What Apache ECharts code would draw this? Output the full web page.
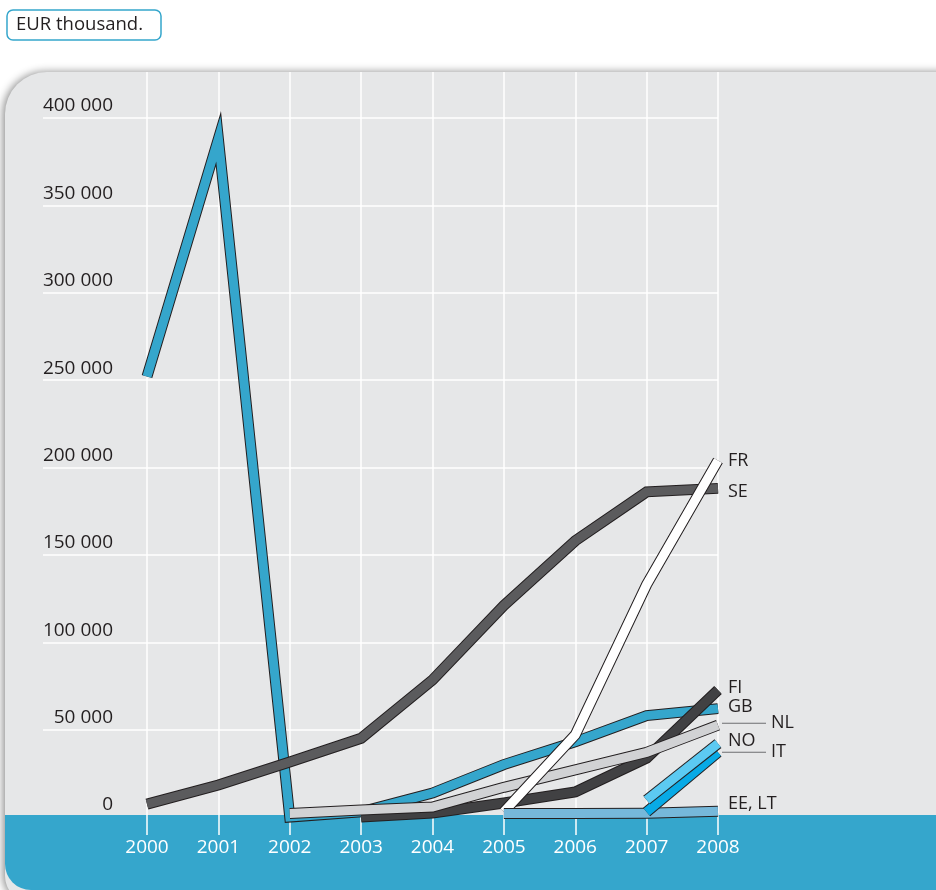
<!DOCTYPE html>
<html><head><meta charset="utf-8">
<script src="https://cdn.jsdelivr.net/npm/echarts@6/dist/echarts.min.js"></script>
<style>html,body{margin:0;padding:0;background:#fff}#c{width:936px;height:890px}</style>
</head><body><div id="c"></div>
<script>
// ---- data (EUR thousand) ----
const years = ['2000','2001','2002','2003','2004','2005','2006','2007','2008'];
const yTicks = [0, 50000, 100000, 150000, 200000, 250000, 300000, 350000, 400000];
const GB   = [252000, 388000, 0, 3000, 13700, 30000, 43000, 58000, 62000];
const SE   = [7400, 18300, 31500, 45000, 78400, 121000, 158000, 186000, 188000];
const FI   = [null, null, null, 0, 2300, 8000, 14300, 33700, 72700];
const NL   = [null, null, 2000, 4000, 5700, 17000, 27000, 37000, 52500];
const FR   = [null, null, null, null, null, 3000, 47000, 133000, 204000];
const EELT = [null, null, null, null, null, 2000, 2000, 2200, 3300];
const IT   = [null, null, null, null, null, null, null, 2900, 37000];
const NO   = [null, null, null, null, null, null, null, 9700, 42000];

const FONT = '"Open Sans", "Noto Sans", sans-serif';
const TXT = '#231f20';

// drawing order (bottom to top)
const defs = [
  {name:'GB',     data:GB,   color:'#35a6cc', dy:-2, lead:false},
  {name:'SE',     data:SE,   color:'#5b5b5d', dy:3,  lead:false},
  {name:'FI',     data:FI,   color:'#414143', dy:-2, lead:false},
  {name:'NL',     data:NL,   color:'#d1d2d4', dy:-2, lead:true},
  {name:'FR',     data:FR,   color:'#ffffff', dy:0,  lead:false},
  {name:'EE, LT', data:EELT, color:'#76b8da', dy:-7, lead:false},
  {name:'IT',     data:IT,   color:'#08aae6', dy:0,  lead:true},
  {name:'NO',     data:NO,   color:'#5ccaf2', dy:-3, lead:false}
];

const PX_PER = 87.4 / 50000;       // pixels per unit
const zeroY = 817, grid1Top = 72, grid1Bottom = 835;

const series = [];
defs.forEach((d, i) => {
  series.push({
    type:'line', name:d.name + '_o', data:d.data, xAxisIndex:1, yAxisIndex:1,
    symbol:'none', silent:true, z: 10 + i*2,
    lineStyle:{color:'#231f20', width:11, join:'miter', miterLimit:40, cap:'butt'}
  });
  series.push({
    type:'line', name:d.name, data:d.data, xAxisIndex:1, yAxisIndex:1,
    symbol:'none', silent:true, z: 11 + i*2,
    lineStyle:{color:d.color, width:9, join:'miter', miterLimit:40, cap:'butt'},
    endLabel:{
      show:true,
      distance: d.lead ? 4 : 10,
      offset:[0, d.dy],
      formatter: d.lead ? ('{ln|}{t|' + d.name + '}') : d.name,
      color:TXT, fontSize:18, fontFamily:FONT,
      rich: d.lead ? {
        ln:{width:44, height:1, backgroundColor:'#6d6e71'},
        t:{color:TXT, fontSize:18, fontFamily:FONT, padding:[0,0,0,5]}
      } : undefined
    }
  });
});

const chart = echarts.init(document.getElementById('c'), null, {renderer:'canvas'});
chart.setOption({
  animation:false,
  backgroundColor:'#ffffff',
  graphic:[
    {type:'rect', z:-10, shape:{x:5, y:72, width:960, height:830, r:[42,0,0,26]},
     style:{fill:'#e6e7e8', shadowBlur:9, shadowColor:'rgba(0,0,0,0.45)', shadowOffsetX:-2}},
    {type:'rect', z:-9, shape:{x:5, y:815, width:960, height:75, r:[0,0,0,26]},
     style:{fill:'#35a6cc'}},
    {type:'rect', z:5, shape:{x:7, y:10, width:154, height:30, r:6},
     style:{fill:'#fff', stroke:'#35a6cc', lineWidth:1.5}},
    {type:'text', z:6, x:16, y:25,
     style:{text:'EUR thousand.', fill:TXT, font:'18.5px ' + FONT, verticalAlign:'middle', align:'left'}}
  ],
  grid:[
    {left:43, right:218, top:118, bottom:890-zeroY},
    {left:147, right:218, top:grid1Top, bottom:890-grid1Bottom}
  ],
  xAxis:[
    {type:'value', gridIndex:0, min:0, max:1, show:false},
    {type:'category', gridIndex:1, data:years, boundaryGap:false,
     axisLine:{show:false}, axisTick:{show:false},
     axisLabel:{color:'#ffffff', fontSize:19, fontFamily:FONT, margin:3, lineHeight:19},
     splitLine:{show:true, lineStyle:{color:'#ffffff', width:1.5}}}
  ],
  yAxis:[
    {type:'value', gridIndex:0, min:yTicks[0], max:yTicks[yTicks.length-1], interval:yTicks[1]-yTicks[0],
     axisLine:{show:false}, axisTick:{show:false},
     axisLabel:{inside:true, margin:70, align:'right', verticalAlign:'bottom',
       color:TXT, fontSize:19, fontFamily:FONT, lineHeight:20, padding:[0,0,2,0],
       formatter:v => String(v).replace(/\B(?=(\d{3})+(?!\d))/g, ' ')},
     splitLine:{show:true, showMinLine:false, lineStyle:{color:'#ffffff', width:1.5}}},
    {type:'value', gridIndex:1,
     min: -(grid1Bottom - zeroY) / PX_PER,
     max: (zeroY - grid1Top) / PX_PER,
     show:false, splitLine:{show:false}}
  ],
  series: series
});
</script>
</body></html>
